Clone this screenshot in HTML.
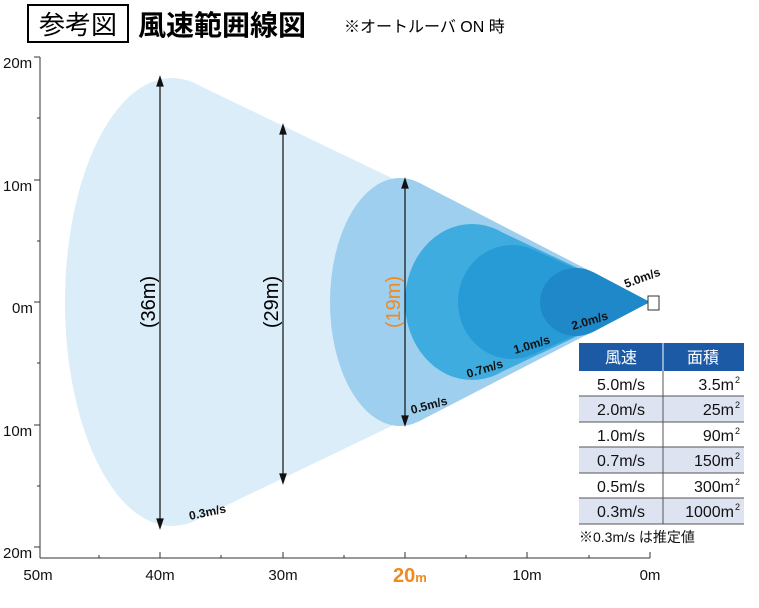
<!DOCTYPE html>
<html><head><meta charset="utf-8"><style>
body{margin:0;width:759px;height:603px;background:#fff;overflow:hidden;font-family:"Liberation Sans","Noto Sans CJK JP",sans-serif}
</style></head><body>
<svg width="759" height="603" xmlns="http://www.w3.org/2000/svg" font-family="Liberation Sans, Noto Sans CJK JP, sans-serif">
<rect x="28" y="5" width="100" height="37" fill="#fff" stroke="#000" stroke-width="2"/>
<text x="78" y="34" font-size="26" text-anchor="middle">参考図</text>
<text x="138" y="35" font-size="28" font-weight="bold">風速範囲線図</text>
<text x="344" y="32" font-size="16">※オートルーバ ON 時</text>
<!-- cones -->
<ellipse cx="172" cy="302" rx="107" ry="224" fill="#dbedf8"/>
<polygon points="650,302 196,84 196,520" fill="#dbedf8"/>
<ellipse cx="400" cy="302" rx="70" ry="124" fill="#9ecfee"/>
<polygon points="650,302 419.6,183 419.6,421" fill="#9ecfee"/>
<ellipse cx="472" cy="302" rx="67" ry="78" fill="#3eacdf"/>
<polygon points="650,302 497,230 497,374" fill="#3eacdf"/>
<ellipse cx="512" cy="302" rx="54" ry="57" fill="#279bd6"/>
<polygon points="650,302 533,249.5 533,354.5" fill="#279bd6"/>
<ellipse cx="576" cy="302" rx="36" ry="34" fill="#1e88c8"/>
<polygon points="650,302 593.5,272.3 593.5,331.7" fill="#1e88c8"/>
<rect x="648" y="296" width="11" height="14" fill="#fff" stroke="#333"/>
<!-- arrows -->
<g stroke="#111" stroke-width="1.2" fill="#111">
<line x1="160" y1="82" x2="160" y2="523"/><polygon points="160,77 157,86 163,86"/><polygon points="160,528 157,519 163,519"/>
<line x1="283" y1="130" x2="283" y2="478"/><polygon points="283,125 280,134 286,134"/><polygon points="283,483 280,474 286,474"/>
<line x1="405" y1="184" x2="405" y2="420"/><polygon points="405,179 402,188 408,188"/><polygon points="405,425 402,416 408,416"/>
</g>
<text transform="translate(155,302) rotate(-90)" font-size="20" text-anchor="middle">(36m)</text>
<text transform="translate(278,302) rotate(-90)" font-size="20" text-anchor="middle">(29m)</text>
<text transform="translate(400,302) rotate(-90)" font-size="20" text-anchor="middle" fill="#f08a1e">(19m)</text>
<g font-size="12" font-weight="bold" fill="#111">
<text transform="translate(190,520) rotate(-12)">0.3m/s</text>
<text transform="translate(412,414) rotate(-15)">0.5m/s</text>
<text transform="translate(468,378) rotate(-17)">0.7m/s</text>
<text transform="translate(515,354) rotate(-17)">1.0m/s</text>
<text transform="translate(573,330) rotate(-17)">2.0m/s</text>
<text transform="translate(626,288) rotate(-20)">5.0m/s</text>
</g>
<!-- axes -->
<g stroke="#333" stroke-width="1">
<line x1="40" y1="57" x2="40" y2="558"/>
<line x1="40" y1="558" x2="650" y2="558"/>
<line x1="34" y1="57" x2="40" y2="57"/><line x1="34" y1="180" x2="40" y2="180"/><line x1="34" y1="302" x2="40" y2="302"/><line x1="34" y1="425" x2="40" y2="425"/><line x1="34" y1="547" x2="40" y2="547"/>
<line x1="37" y1="118" x2="40" y2="118"/><line x1="37" y1="241" x2="40" y2="241"/><line x1="37" y1="363" x2="40" y2="363"/><line x1="37" y1="486" x2="40" y2="486"/>
<line x1="160" y1="552" x2="160" y2="558"/><line x1="283" y1="552" x2="283" y2="558"/><line x1="405" y1="552" x2="405" y2="558"/><line x1="527" y1="552" x2="527" y2="558"/><line x1="650" y1="552" x2="650" y2="558"/>
<line x1="99" y1="555" x2="99" y2="558"/><line x1="221" y1="555" x2="221" y2="558"/><line x1="344" y1="555" x2="344" y2="558"/><line x1="466" y1="555" x2="466" y2="558"/><line x1="589" y1="555" x2="589" y2="558"/>
</g>
<g font-size="15" fill="#111">
<text x="3" y="68">20m</text><text x="3" y="191">10m</text><text x="12" y="313">0m</text><text x="3" y="436">10m</text><text x="3" y="558">20m</text>
<text x="38" y="580" text-anchor="middle">50m</text><text x="160" y="580" text-anchor="middle">40m</text><text x="283" y="580" text-anchor="middle">30m</text>
<text x="527" y="580" text-anchor="middle">10m</text><text x="650" y="580" text-anchor="middle">0m</text>
</g>
<text x="393" y="582" font-size="20" font-weight="bold" fill="#f08a1e">20<tspan font-size="13">m</tspan></text>
<!-- table -->
<rect x="579" y="343" width="165" height="28" fill="#1d5aa5"/>
<line x1="663" y1="343" x2="663" y2="371" stroke="#fff"/>
<text x="621" y="363" font-size="16" fill="#fff" text-anchor="middle">風速</text>
<text x="703" y="363" font-size="16" fill="#fff" text-anchor="middle">面積</text>
<rect x="579" y="396" width="165" height="26" fill="#dde3f1"/>
<rect x="579" y="447" width="165" height="26" fill="#dde3f1"/>
<rect x="579" y="498" width="165" height="26" fill="#dde3f1"/>
<g stroke="#555" stroke-width="1">
<line x1="579" y1="396" x2="744" y2="396"/><line x1="579" y1="422" x2="744" y2="422"/><line x1="579" y1="447" x2="744" y2="447"/><line x1="579" y1="473" x2="744" y2="473"/><line x1="579" y1="498" x2="744" y2="498"/><line x1="579" y1="524" x2="744" y2="524"/>
<line x1="663" y1="371" x2="663" y2="524"/>
</g>
<g font-size="16" fill="#111">
<text x="621" y="390" text-anchor="middle">5.0m/s</text><text x="734" y="390" text-anchor="end">3.5m</text>
<text x="621" y="415" text-anchor="middle">2.0m/s</text><text x="734" y="415" text-anchor="end">25m</text>
<text x="621" y="441" text-anchor="middle">1.0m/s</text><text x="734" y="441" text-anchor="end">90m</text>
<text x="621" y="466" text-anchor="middle">0.7m/s</text><text x="734" y="466" text-anchor="end">150m</text>
<text x="621" y="492" text-anchor="middle">0.5m/s</text><text x="734" y="492" text-anchor="end">300m</text>
<text x="621" y="517" text-anchor="middle">0.3m/s</text><text x="734" y="517" text-anchor="end">1000m</text>
</g>
<g font-size="9" fill="#111">
<text x="735" y="383">2</text><text x="735" y="408">2</text><text x="735" y="434">2</text><text x="735" y="459">2</text><text x="735" y="485">2</text><text x="735" y="510">2</text>
</g>
<text x="579" y="542" font-size="14" fill="#111">※0.3m/s は推定値</text>
</svg>
</body></html>
